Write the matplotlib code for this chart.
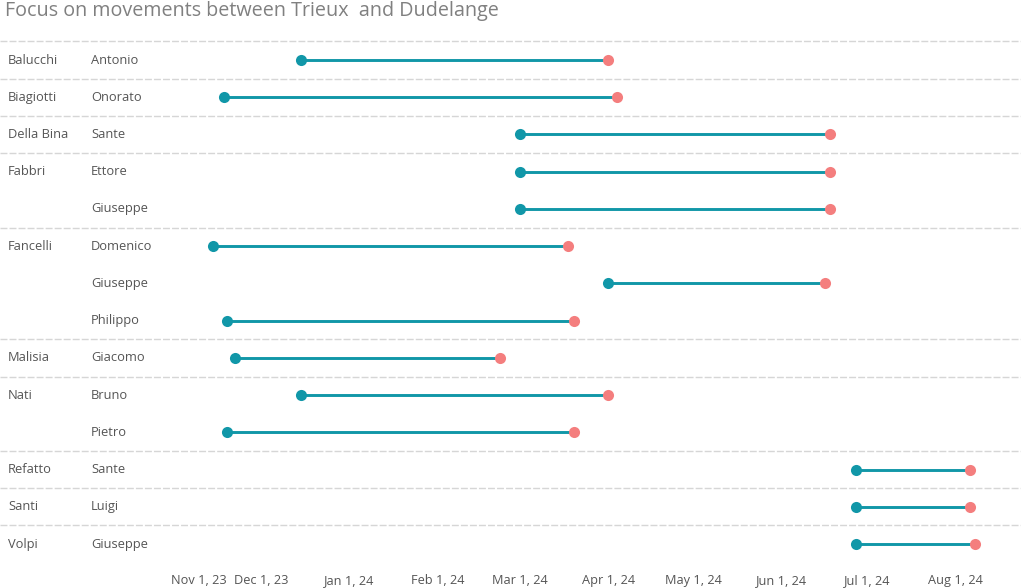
import numpy as np
import pandas as pd
import matplotlib
matplotlib.use("Agg")
import matplotlib.pyplot as plt
import matplotlib.transforms as mtransforms

# --- data ---
families = ["Balucchi", "Biagiotti", "Della Bina", "Fabbri", "Fabbri",
            "Fancelli", "Fancelli", "Fancelli", "Malisia", "Nati", "Nati",
            "Refatto", "Santi", "Volpi"]
first_names = ["Antonio", "Onorato", "Sante", "Ettore", "Giuseppe",
               "Domenico", "Giuseppe", "Philippo", "Giacomo", "Bruno", "Pietro",
               "Sante", "Luigi", "Giuseppe"]
start_dates = ["2023-12-15", "2023-11-18", "2024-03-01", "2024-03-01", "2024-03-01",
               "2023-11-14", "2024-04-01", "2023-11-19", "2023-11-22", "2023-12-15",
               "2023-11-19", "2024-06-27", "2024-06-27", "2024-06-27"]
end_dates = ["2024-04-01", "2024-04-04", "2024-06-18", "2024-06-18", "2024-06-18",
             "2024-03-18", "2024-06-16", "2024-03-20", "2024-02-23", "2024-04-01",
             "2024-03-20", "2024-08-06", "2024-08-06", "2024-08-08"]
tick_dates = ["2023-11-01", "2023-12-01", "2024-01-01", "2024-02-01", "2024-03-01",
              "2024-04-01", "2024-05-01", "2024-06-01", "2024-07-01", "2024-08-01"]
tick_labels = ["Nov 1, 23", "Dec 1, 23", "Jan 1, 24", "Feb 1, 24", "Mar 1, 24",
               "Apr 1, 24", "May 1, 24", "Jun 1, 24", "Jul 1, 24", "Aug 1, 24"]

TEAL = "#1197a8"
CORAL = "#f47e7e"
GRID = "#d6d6d6"
TXT = "#555555"

plt.rcParams["font.family"] = ["Open Sans", "DejaVu Sans"]

start = pd.to_datetime(start_dates)
end = pd.to_datetime(end_dates)
rows = np.arange(len(first_names))

W, H = 1021, 588
fig = plt.figure(figsize=(W / 100, H / 100), dpi=100)
left_px, top_px, bot_px = 170, 41.4, 562.7
ax = fig.add_axes([left_px / W, 1 - bot_px / H, 1 - left_px / W, (bot_px - top_px) / H])

for y, s, e in zip(rows, start, end):
    ax.plot([s, e], [y, y], color=TEAL, lw=2.1, solid_capstyle="butt", zorder=2)
ax.scatter(start, rows, s=64, color=TEAL, zorder=3, linewidths=0)
ax.scatter(end, rows, s=64, color=CORAL, zorder=3, linewidths=0)

ax.set_ylim(len(rows) - 0.5, -0.5)
ax.set_xlim(pd.Timestamp("2023-10-30"), pd.Timestamp("2024-08-24"))

# separators between families (span label columns too)
x0 = -left_px / (W - left_px)
prev = None
for i, fam in enumerate(families):
    if fam != prev:
        ax.axhline(i - 0.5, xmin=x0, xmax=1, color=GRID, lw=1,
                   linestyle=(0, (5, 1.5)), clip_on=False, zorder=1)
        ax.text((8 - left_px) / (W - left_px), i, fam, transform=ax.get_yaxis_transform(),
                ha="left", va="center", fontsize=9.3, color=TXT)
    prev = fam
for i, nm in enumerate(first_names):
    ax.text((91 - left_px) / (W - left_px), i, nm, transform=ax.get_yaxis_transform(),
            ha="left", va="center", fontsize=9.3, color=TXT)

ax.set_xticks(pd.to_datetime(tick_dates))
ax.set_xticklabels(tick_labels)
ax.tick_params(axis="x", length=0, labelsize=9.2, labelcolor=TXT, pad=8)
first = ax.get_xticklabels()[0]
first.set_horizontalalignment("left")
first.set_transform(first.get_transform() +
                    mtransforms.ScaledTranslation(-5 / 100, 0, fig.dpi_scale_trans))
ax.set_yticks([])
for sp in ax.spines.values():
    sp.set_visible(False)

fig.text(5 / W, 1 - 11 / H, "Focus on movements between Trieux  and Dudelange",
         ha="left", va="center", fontsize=14.2, color="#808080")

fig.savefig("out.png", dpi=100)
